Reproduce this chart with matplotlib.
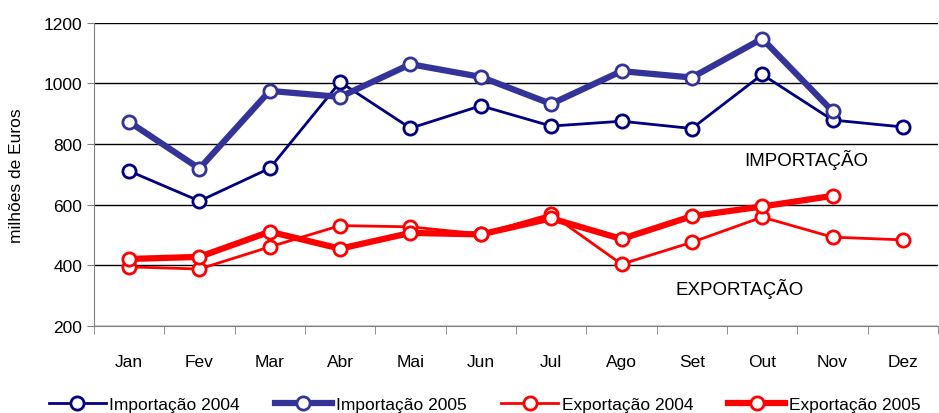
import matplotlib
matplotlib.use('Agg')
import numpy as np
import matplotlib.pyplot as plt

plt.rcParams['font.family'] = ['Liberation Sans', 'DejaVu Sans']

meses = ['Jan', 'Fev', 'Mar', 'Abr', 'Mai', 'Jun', 'Jul', 'Ago', 'Set', 'Out', 'Nov', 'Dez']

imp_2004 = [711, 612, 720, 1004, 852, 926, 859, 875, 851, 1029, 879, 856]
imp_2005 = [873, 719, 975, 955, 1063, 1021, 932, 1040, 1019, 1147, 908]
exp_2004 = [395, 388, 461, 531, 527, 503, 569, 404, 476, 559, 493, 484]
exp_2005 = [421, 428, 511, 455, 507, 502, 555, 487, 562, 594, 629]

fig = plt.figure(figsize=(9.39, 4.14), dpi=100)
ax = fig.add_axes([0.100, 0.210, 0.899, 0.733])

x = np.arange(len(meses))
mk = dict(marker='o', markerfacecolor='white', markersize=9.5, markeredgewidth=2)

ax.plot(x, imp_2004, color='#000080', lw=2, label='Importação 2004', **mk)
ax.plot(x[:len(imp_2005)], imp_2005, color='#333399', lw=4.5, label='Importação 2005', **mk)
ax.plot(x, exp_2004, color='#ff0000', lw=2, label='Exportação 2004', **mk)
ax.plot(x[:len(exp_2005)], exp_2005, color='#ff0000', lw=4.5, label='Exportação 2005', **mk)

ax.set_xlim(-0.5, 11.5)
ax.set_ylim(200, 1200)
ax.set_yticks(range(200, 1201, 200))
ax.yaxis.grid(True, color='black', lw=1)
ax.set_axisbelow(True)

ax.set_xticks(x)
ax.set_xticklabels(meses, fontsize=12.5)
ax.set_xticks(np.arange(-0.5, 12, 1), minor=True)
ax.tick_params(axis='x', which='major', length=0, pad=20)
ax.tick_params(axis='x', which='minor', length=6, color='#808080')
ax.tick_params(axis='y', length=5, color='#808080', labelsize=12.5)

for side in ['top', 'right']:
    ax.spines[side].set_visible(False)
for side in ['left', 'bottom']:
    ax.spines[side].set_color('#808080')

ax.set_ylabel('milhões de Euros', fontsize=12.5, labelpad=14)

ax.text(9.62, 750, 'IMPORTAÇÃO', fontsize=13.5, ha='center', va='center')
ax.text(8.68, 325, 'EXPORTAÇÃO', fontsize=13.5, ha='center', va='center')

fig.legend(loc='lower center', bbox_to_anchor=(0.516, -0.035), ncol=4, frameon=False,
           fontsize=12.5, handlelength=3.3, handletextpad=0.2, columnspacing=2.0)

fig.savefig('out.png', dpi=100)
